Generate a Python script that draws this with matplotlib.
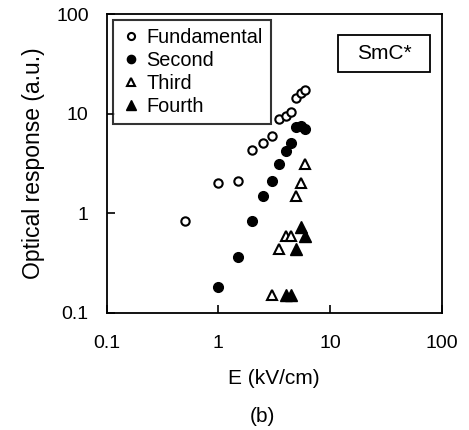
import matplotlib.pyplot as plt
from matplotlib.patches import Rectangle

plt.rcParams['font.family'] = ['Liberation Sans', 'DejaVu Sans']

# Field strength (kV/cm) and optical response (a.u.) for each harmonic
fund_E = [0.5, 1.0, 1.5, 2.0, 2.5, 3.0, 3.5, 4.0, 4.5, 5.0, 5.5, 6.0]
fund_R = [0.83, 2.0, 2.1, 4.3, 5.1, 6.0, 8.8, 9.5, 10.4, 14.4, 16.0, 17.2]

second_E = [1.0, 1.5, 2.0, 2.5, 3.0, 3.5, 4.0, 4.5, 5.0, 5.5, 6.0]
second_R = [0.18, 0.36, 0.84, 1.5, 2.1, 3.1, 4.2, 5.1, 7.3, 7.5, 7.0]

third_E = [3.0, 3.5, 4.0, 4.5, 5.0, 5.5, 6.0]
third_R = [0.15, 0.44, 0.59, 0.59, 1.47, 2.0, 3.1]

fourth_E = [4.0, 4.5, 5.0, 5.5, 6.0]
fourth_R = [0.15, 0.15, 0.44, 0.73, 0.59]

ticks = [0.1, 1, 10, 100]
tick_labels = ['0.1', '1', '10', '100']

fig = plt.figure(figsize=(4.69, 4.30), dpi=100)
ax = fig.add_axes([0.2275, 0.2728, 0.7143, 0.6946])

ax.plot(fund_E, fund_R, 'o', mfc='white', mec='black', mew=1.5, ms=6, label='Fundamental')
ax.plot(second_E, second_R, 'o', color='black', ms=7, label='Second')
ax.plot(third_E, third_R, '^', mfc='white', mec='black', mew=1.5, ms=7, label='Third')
ax.plot(fourth_E, fourth_R, '^', color='black', ms=8, label='Fourth')

ax.set_xscale('log')
ax.set_yscale('log')
ax.set_xlim(0.1, 100)
ax.set_ylim(0.1, 100)
ax.set_xticks(ticks)
ax.set_xticklabels(tick_labels)
ax.set_yticks(ticks)
ax.set_yticklabels(tick_labels)
ax.minorticks_off()
ax.tick_params(direction='in', length=5.5, width=1.2, labelsize=14, colors='black')
ax.tick_params(axis='x', pad=16)
ax.tick_params(axis='y', pad=13)
for s in ax.spines.values():
    s.set_linewidth(1.3)

ax.set_xlabel('E (kV/cm)', fontsize=15, labelpad=12)
ax.set_ylabel('Optical response (a.u.)', fontsize=16.5, labelpad=8)
fig.text(0.560, 0.031, '(b)', ha='center', va='center', fontsize=15)

leg = ax.legend(loc='upper left', fontsize=14.3, frameon=True, fancybox=False,
                edgecolor='black', markerscale=0.85, handlelength=1.0,
                handletextpad=0.3, labelspacing=0.2, borderpad=0.4,
                borderaxespad=0.3)
leg.get_frame().set_linewidth(1.5)

# phase label in its own box, upper right
ax.add_patch(Rectangle((0.690, 0.806), 0.275, 0.124, transform=ax.transAxes,
                       fill=False, ec='black', lw=1.3, zorder=3))
ax.text(0.828, 0.868, 'SmC*', transform=ax.transAxes, ha='center', va='center',
        fontsize=15)

fig.savefig('out.png', dpi=100)
